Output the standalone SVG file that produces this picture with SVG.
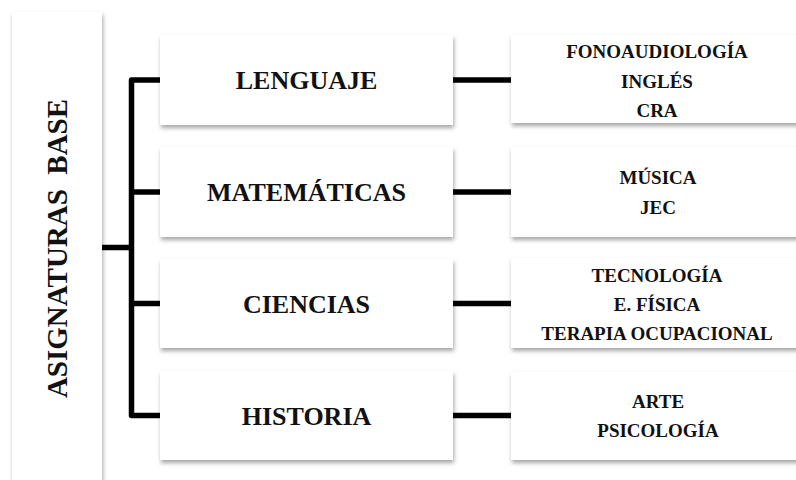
<svg xmlns="http://www.w3.org/2000/svg" width="796" height="480" viewBox="0 0 796 480">
<defs>
<filter id="sh" x="-10%" y="-10%" width="120%" height="130%">
<feDropShadow dx="1" dy="3" stdDeviation="2" flood-color="#000" flood-opacity="0.35"/>
</filter>
</defs>
<style>
.box{fill:#fff;filter:url(#sh);}
.main{font-family:"Liberation Serif","Times New Roman",serif;font-weight:bold;font-size:26px;fill:#111;text-anchor:middle;}
.sub{font-family:"Liberation Serif","Times New Roman",serif;font-weight:bold;font-size:19px;fill:#111;text-anchor:middle;}
.side{font-family:"Liberation Serif","Times New Roman",serif;font-weight:bold;font-size:29px;fill:#111;text-anchor:middle;}
.ln{fill:none;stroke:#000;stroke-width:5.5;stroke-linejoin:round;}
</style>
<rect width="796" height="480" fill="#fff"/>
<g id="connectors">
<path class="ln" d="M160,80 H131.5 V415.5 H160"/>
<path class="ln" d="M131.5,192 H160"/>
<path class="ln" d="M131.5,303.5 H160"/>
<path class="ln" d="M102,247.5 H131.5"/>
<path class="ln" d="M453,80 H511"/>
<path class="ln" d="M453,192 H511"/>
<path class="ln" d="M453,303.5 H511"/>
<path class="ln" d="M453,415.5 H511"/>
</g>
<g id="base">
<rect class="box" x="12" y="12" width="90" height="480"/>
<text class="side" transform="translate(67,248.5) rotate(-90)" xml:space="preserve">ASIGNATURAS  BASE</text>
</g>
<g id="lenguaje">
<rect class="box" x="160" y="35" width="293" height="90"/>
<text class="main" x="306.5" y="89">LENGUAJE</text>
</g>
<g id="matematicas">
<rect class="box" x="160" y="147" width="293" height="90"/>
<text class="main" x="306.5" y="201">MATEMÁTICAS</text>
</g>
<g id="ciencias">
<rect class="box" x="160" y="259" width="293" height="89"/>
<text class="main" x="306.5" y="312.5">CIENCIAS</text>
</g>
<g id="historia">
<rect class="box" x="160" y="371" width="293" height="89"/>
<text class="main" x="306.5" y="424.5">HISTORIA</text>
</g>
<g id="r1">
<rect class="box" x="511" y="35" width="300" height="88"/>
<text class="sub" x="657" y="58">FONOAUDIOLOGÍA</text>
<text class="sub" x="657" y="88">INGLÉS</text>
<text class="sub" x="657" y="117">CRA</text>
</g>
<g id="r2">
<rect class="box" x="511" y="147" width="300" height="90"/>
<text class="sub" x="658" y="184">MÚSICA</text>
<text class="sub" x="658" y="214">JEC</text>
</g>
<g id="r3">
<rect class="box" x="511" y="258" width="300" height="90"/>
<text class="sub" x="657" y="282">TECNOLOGÍA</text>
<text class="sub" x="657" y="311">E. FÍSICA</text>
<text class="sub" x="657" y="340">TERAPIA OCUPACIONAL</text>
</g>
<g id="r4">
<rect class="box" x="511" y="372" width="300" height="88"/>
<text class="sub" x="658" y="408">ARTE</text>
<text class="sub" x="658" y="437">PSICOLOGÍA</text>
</g>
</svg>
